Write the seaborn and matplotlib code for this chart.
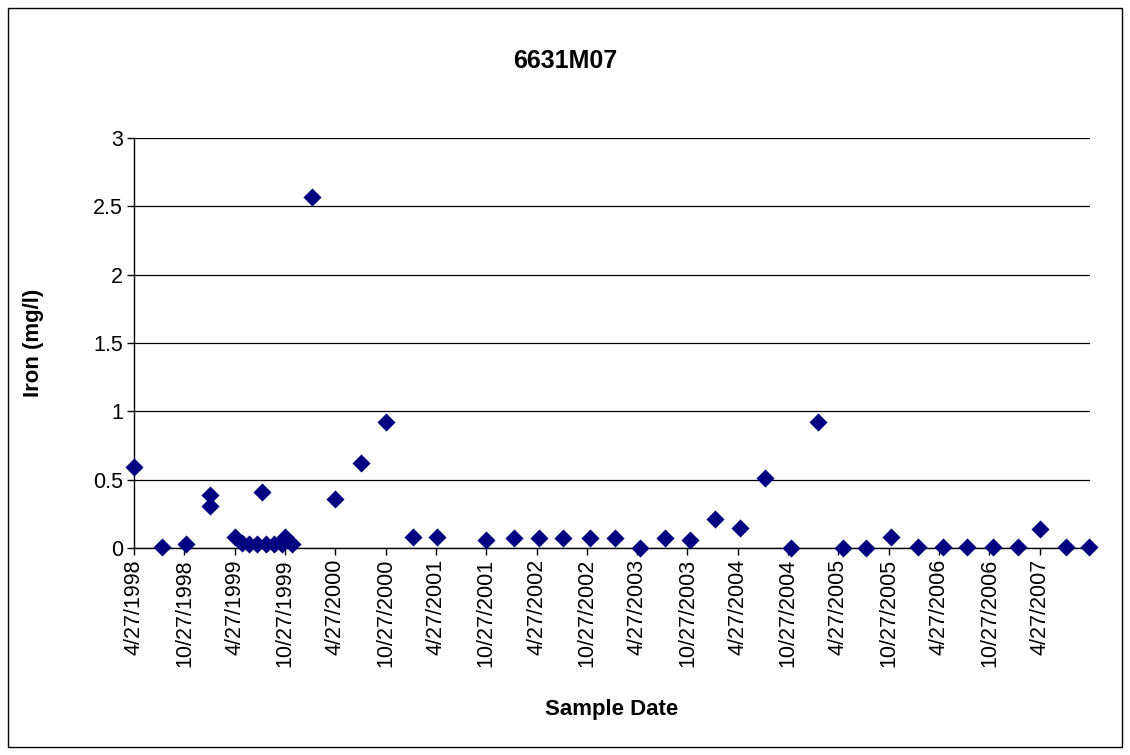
import matplotlib
matplotlib.use("Agg")
import pandas as pd
import matplotlib.pyplot as plt
from matplotlib.patches import Rectangle
import seaborn as sns

# Values
sample_dates = [
    "1998-04-27", "1998-08-08", "1998-11-01", "1999-01-29", "1999-01-29",
    "1999-04-29", "1999-05-23", "1999-06-19", "1999-07-16", "1999-08-03",
    "1999-08-18", "1999-09-17", "1999-10-15", "1999-10-27", "1999-11-20",
    "2000-02-03", "2000-04-27", "2000-07-28", "2000-10-28", "2001-02-02",
    "2001-05-02", "2001-10-25", "2002-02-06", "2002-05-07", "2002-07-31",
    "2002-11-07", "2003-02-05", "2003-05-08", "2003-08-06", "2003-11-05",
    "2004-02-04", "2004-05-05", "2004-08-04", "2004-11-05", "2005-02-11",
    "2005-05-12", "2005-08-04", "2005-11-04", "2006-02-11", "2006-05-10",
    "2006-08-05", "2006-11-10", "2007-02-06", "2007-04-29", "2007-08-01",
    "2007-10-24",
]
iron = [
    0.59, 0.01, 0.03, 0.39, 0.31,
    0.08, 0.04, 0.03, 0.03, 0.41,
    0.03, 0.03, 0.03, 0.08, 0.03,
    2.57, 0.36, 0.62, 0.92, 0.08,
    0.08, 0.055, 0.075, 0.075, 0.075,
    0.075, 0.075, 0.0, 0.075, 0.055,
    0.21, 0.145, 0.515, 0.0, 0.92,
    0.0, 0.0, 0.078, 0.005, 0.005,
    0.005, 0.005, 0.005, 0.14, 0.005,
    0.005,
]
tick_dates = [
    "1998-04-27", "1998-10-27", "1999-04-27", "1999-10-27", "2000-04-27",
    "2000-10-27", "2001-04-27", "2001-10-27", "2002-04-27", "2002-10-27",
    "2003-04-27", "2003-10-27", "2004-04-27", "2004-10-27", "2005-04-27",
    "2005-10-27", "2006-04-27", "2006-10-27", "2007-04-27",
]
tick_labels = [
    "4/27/1998", "10/27/1998", "4/27/1999", "10/27/1999", "4/27/2000",
    "10/27/2000", "4/27/2001", "10/27/2001", "4/27/2002", "10/27/2002",
    "4/27/2003", "10/27/2003", "4/27/2004", "10/27/2004", "4/27/2005",
    "10/27/2005", "4/27/2006", "10/27/2006", "4/27/2007",
]
y_ticks = [0, 0.5, 1, 1.5, 2, 2.5, 3]
y_labels = ["0", "0.5", "1", "1.5", "2", "2.5", "3"]

sns.set_theme(style="white")
plt.rcParams['font.family'] = ['Liberation Sans', 'DejaVu Sans']
plt.rcParams['text.color'] = 'black'

df = pd.DataFrame({'date': pd.to_datetime(sample_dates), 'iron': iron})

fig = plt.figure(figsize=(11.3, 7.55), dpi=100)
ax = fig.add_axes([134 / 1130, 1 - 548 / 755, (1090 - 134) / 1130, (548 - 138) / 755])

sns.scatterplot(data=df, x='date', y='iron', marker='D', s=85, color='#000080',
                edgecolor='#000080', linewidth=0, ax=ax, zorder=3, clip_on=False)

ax.set_xlim(pd.Timestamp("1998-04-27"), pd.Timestamp("2007-10-27"))
ax.set_ylim(0, 3)
ax.set_yticks(y_ticks)
ax.set_yticklabels(y_labels)
ax.set_xticks(pd.to_datetime(tick_dates))
ax.set_xticklabels(tick_labels, rotation=90)
ax.set_xlabel('')
ax.set_ylabel('')

ax.yaxis.grid(True, color='black', linewidth=0.9)
ax.xaxis.grid(False)
for side in ['top', 'right']:
    ax.spines[side].set_visible(False)
for side in ['left', 'bottom']:
    ax.spines[side].set_color('black')
    ax.spines[side].set_linewidth(1.0)
ax.tick_params(axis='both', direction='out', length=5, width=1, color='black',
               labelsize=15.5, labelcolor='black', pad=3)
ax.tick_params(axis='x', bottom=True)
ax.tick_params(axis='y', left=True)

fig.text(565 / 1130, 1 - 61 / 755, '6631M07', ha='center', va='center',
         fontsize=18, fontweight='bold', color='black')
fig.text(612 / 1130, 1 - 709 / 755, 'Sample Date', ha='center', va='center',
         fontsize=16, fontweight='bold', color='black')
fig.text(33 / 1130, 1 - 343 / 755, 'Iron (mg/l)', ha='center', va='center',
         rotation=90, fontsize=16, fontweight='bold', color='black')

fig.patches.append(Rectangle((8 / 1130, 8 / 755), (1122 - 8) / 1130, (747 - 8) / 755,
                             transform=fig.transFigure, fill=False,
                             edgecolor='black', linewidth=1))

fig.savefig('out.png', dpi=100)
